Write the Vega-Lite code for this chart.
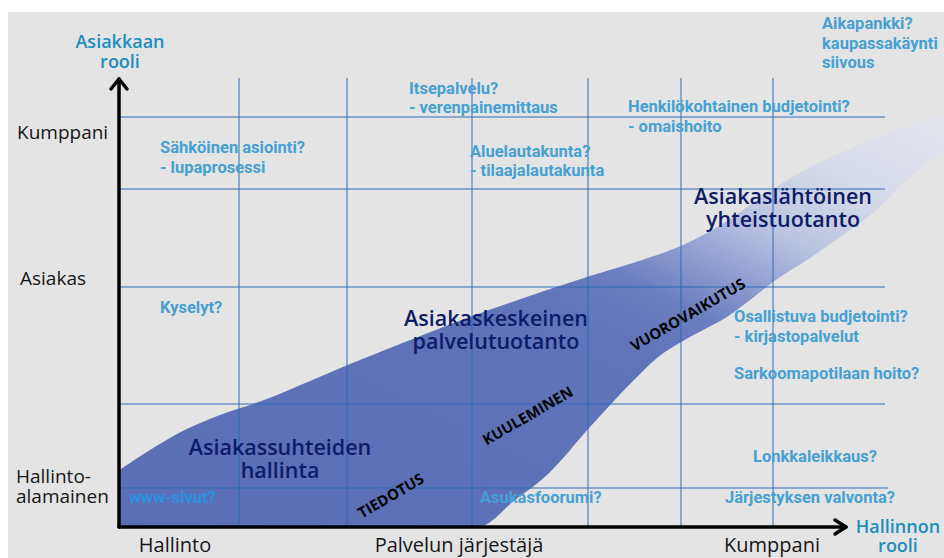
{
  "$schema": "https://vega.github.io/schema/vega-lite/v6.json",
  "width": 944,
  "height": 558,
  "autosize": {"type": "fit", "contains": "padding"},
  "padding": 0,
  "background": "#ffffff",
  "config": {"view": {"stroke": null}},
  "datasets": {
    "frame": [{"x": 8, "y": 12, "x2": 944, "y2": 558}],
    "band": [
      {"x": 118, "top": 471, "bottom": 527},
      {"x": 150, "top": 450, "bottom": 527},
      {"x": 177, "top": 434, "bottom": 527},
      {"x": 220, "top": 415, "bottom": 527},
      {"x": 267, "top": 399, "bottom": 527},
      {"x": 310, "top": 381, "bottom": 527},
      {"x": 350, "top": 364, "bottom": 527},
      {"x": 400, "top": 344, "bottom": 527},
      {"x": 433, "top": 331, "bottom": 527},
      {"x": 478, "top": 314, "bottom": 527},
      {"x": 515, "top": 301, "bottom": 500},
      {"x": 547, "top": 290, "bottom": 475},
      {"x": 590, "top": 276, "bottom": 427},
      {"x": 633, "top": 263, "bottom": 381},
      {"x": 657, "top": 255, "bottom": 358},
      {"x": 683, "top": 245, "bottom": 341},
      {"x": 705, "top": 234, "bottom": 329},
      {"x": 727, "top": 221, "bottom": 317},
      {"x": 750, "top": 205, "bottom": 300},
      {"x": 773, "top": 189, "bottom": 282},
      {"x": 810, "top": 167, "bottom": 258},
      {"x": 840, "top": 153, "bottom": 237},
      {"x": 873, "top": 139, "bottom": 213},
      {"x": 907, "top": 126, "bottom": 180},
      {"x": 944, "top": 114, "bottom": 150}
    ],
    "grid": [
      {"x": 118, "y": 117, "x2": 885, "y2": 117},
      {"x": 118, "y": 189, "x2": 885, "y2": 189},
      {"x": 118, "y": 287, "x2": 885, "y2": 287},
      {"x": 118, "y": 404, "x2": 885, "y2": 404},
      {"x": 118, "y": 488, "x2": 888, "y2": 488},
      {"x": 239, "y": 78, "x2": 239, "y2": 527},
      {"x": 347, "y": 78, "x2": 347, "y2": 527},
      {"x": 472, "y": 78, "x2": 472, "y2": 527},
      {"x": 588, "y": 78, "x2": 588, "y2": 527},
      {"x": 681, "y": 78, "x2": 681, "y2": 527},
      {"x": 773, "y": 78, "x2": 773, "y2": 527}
    ],
    "axes": [
      {"x": 119, "y": 79, "x2": 119, "y2": 527},
      {"x": 119, "y": 527, "x2": 845, "y2": 527},
      {"x": 111, "y": 89, "x2": 119, "y2": 79},
      {"x": 127, "y": 89, "x2": 119, "y2": 79},
      {"x": 835, "y": 520, "x2": 846, "y2": 527},
      {"x": 835, "y": 534, "x2": 846, "y2": 527}
    ],
    "labels": [
      {"role": "axisY", "text": "Kumppani", "x": 17, "y": 133},
      {"role": "axisY", "text": "Asiakas", "x": 20, "y": 279},
      {"role": "axisY", "text": "Hallinto-", "x": 16, "y": 477},
      {"role": "axisY", "text": "alamainen", "x": 16, "y": 497},
      {"role": "axisX", "text": "Hallinto", "x": 175, "y": 546},
      {"role": "axisX", "text": "Palvelun järjestäjä", "x": 459, "y": 546},
      {"role": "axisX", "text": "Kumppani", "x": 772, "y": 546},
      {"role": "head", "text": "Asiakkaan", "x": 120, "y": 43},
      {"role": "head", "text": "rooli", "x": 120, "y": 63},
      {"role": "head", "text": "Hallinnon", "x": 898, "y": 528},
      {"role": "head", "text": "rooli", "x": 898, "y": 547},
      {"role": "blue", "text": "Sähköinen asiointi?", "x": 160, "y": 148},
      {"role": "blue", "text": "- lupaprosessi", "x": 160, "y": 168},
      {"role": "blue", "text": "Itsepalvelu?", "x": 409, "y": 89},
      {"role": "blue", "text": "- verenpainemittaus", "x": 409, "y": 108},
      {"role": "blue", "text": "Aluelautakunta?", "x": 470, "y": 152},
      {"role": "blue", "text": "- tilaajalautakunta", "x": 470, "y": 171},
      {"role": "blue", "text": "Henkilökohtainen budjetointi?", "x": 628, "y": 107},
      {"role": "blue", "text": "- omaishoito", "x": 628, "y": 127},
      {"role": "blue", "text": "Aikapankki?", "x": 822, "y": 24},
      {"role": "blue", "text": "kaupassakäynti", "x": 822, "y": 44},
      {"role": "blue", "text": "siivous", "x": 822, "y": 63},
      {"role": "blue", "text": "Kyselyt?", "x": 160, "y": 308},
      {"role": "blue", "text": "Osallistuva budjetointi?", "x": 734, "y": 317},
      {"role": "blue", "text": "- kirjastopalvelut", "x": 734, "y": 337},
      {"role": "blue", "text": "Sarkoomapotilaan hoito?", "x": 734, "y": 374},
      {"role": "blue", "text": "Lonkkaleikkaus?", "x": 753, "y": 457},
      {"role": "blue", "text": "Järjestyksen valvonta?", "x": 725, "y": 498},
      {"role": "blue", "text": "Asukasfoorumi?", "x": 480, "y": 498},
      {"role": "blueDark", "text": "www-sivut?", "x": 129, "y": 498},
      {"role": "navy", "text": "Asiakassuhteiden", "x": 280, "y": 449},
      {"role": "navy", "text": "hallinta", "x": 280, "y": 472},
      {"role": "navy", "text": "Asiakaskeskeinen", "x": 496, "y": 320},
      {"role": "navy", "text": "palvelutuotanto", "x": 496, "y": 343},
      {"role": "navy", "text": "Asiakaslähtöinen", "x": 783, "y": 198},
      {"role": "navy", "text": "yhteistuotanto", "x": 783, "y": 221},
      {"role": "rot", "text": "TIEDOTUS", "x": 391, "y": 496},
      {"role": "rot", "text": "KUULEMINEN", "x": 528, "y": 416},
      {"role": "rot", "text": "VUOROVAIKUTUS", "x": 688, "y": 315}
    ]
  },
  "layer": [
    {
      "data": {"name": "frame"},
      "mark": {"type": "rect", "fill": "#e4e4e4"},
      "encoding": {
        "x": {"field": "x", "type": "quantitative", "scale": {"domain": [0, 944], "nice": false, "zero": false}, "axis": null},
        "x2": {"field": "x2"},
        "y": {"field": "y", "type": "quantitative", "scale": {"domain": [0, 558], "reverse": true, "nice": false, "zero": false}, "axis": null},
        "y2": {"field": "y2"}
      }
    },
    {
      "data": {"name": "band"},
      "mark": {
        "type": "area",
        "interpolate": "monotone",
        "color": {
          "gradient": "linear",
          "x1": 0, "y1": 1, "x2": 1, "y2": 0,
          "stops": [
            {"offset": 0, "color": "#5a6eb5"},
            {"offset": 0.52, "color": "#5f74b9"},
            {"offset": 0.61, "color": "#6a7ec0"},
            {"offset": 0.68, "color": "#909fd1"},
            {"offset": 0.76, "color": "#bcc5e1"},
            {"offset": 0.86, "color": "#d6dbea"},
            {"offset": 1, "color": "#e3e5ec"}
          ]
        }
      },
      "encoding": {
        "x": {"field": "x", "type": "quantitative", "scale": {"domain": [0, 944], "nice": false, "zero": false}, "axis": null},
        "y": {"field": "top", "type": "quantitative", "scale": {"domain": [0, 558], "reverse": true, "nice": false, "zero": false}, "axis": null},
        "y2": {"field": "bottom"}
      }
    },
    {
      "data": {"name": "grid"},
      "mark": {"type": "rule", "stroke": "#2a6ab5", "opacity": 0.65, "strokeWidth": 1.5},
      "encoding": {
        "x": {"field": "x", "type": "quantitative", "scale": {"domain": [0, 944], "nice": false, "zero": false}, "axis": null},
        "x2": {"field": "x2"},
        "y": {"field": "y", "type": "quantitative", "scale": {"domain": [0, 558], "reverse": true, "nice": false, "zero": false}, "axis": null},
        "y2": {"field": "y2"}
      }
    },
    {
      "data": {"name": "axes"},
      "mark": {"type": "rule", "stroke": "#000000", "strokeWidth": 3.5, "strokeCap": "round"},
      "encoding": {
        "x": {"field": "x", "type": "quantitative", "scale": {"domain": [0, 944], "nice": false, "zero": false}, "axis": null},
        "x2": {"field": "x2"},
        "y": {"field": "y", "type": "quantitative", "scale": {"domain": [0, 558], "reverse": true, "nice": false, "zero": false}, "axis": null},
        "y2": {"field": "y2"}
      }
    },
    {
      "data": {"name": "labels"},
      "transform": [{"filter": "datum.role === 'axisY'"}],
      "mark": {"type": "text", "align": "left", "baseline": "middle", "font": "Open Sans", "fontSize": 19, "color": "#161616"},
      "encoding": {
        "x": {"field": "x", "type": "quantitative", "scale": {"domain": [0, 944], "nice": false, "zero": false}, "axis": null},
        "y": {"field": "y", "type": "quantitative", "scale": {"domain": [0, 558], "reverse": true, "nice": false, "zero": false}, "axis": null},
        "text": {"field": "text"}
      }
    },
    {
      "data": {"name": "labels"},
      "transform": [{"filter": "datum.role === 'axisX'"}],
      "mark": {"type": "text", "align": "center", "baseline": "middle", "font": "Open Sans", "fontSize": 20, "color": "#161616"},
      "encoding": {
        "x": {"field": "x", "type": "quantitative", "scale": {"domain": [0, 944], "nice": false, "zero": false}, "axis": null},
        "y": {"field": "y", "type": "quantitative", "scale": {"domain": [0, 558], "reverse": true, "nice": false, "zero": false}, "axis": null},
        "text": {"field": "text"}
      }
    },
    {
      "data": {"name": "labels"},
      "transform": [{"filter": "datum.role === 'head'"}],
      "mark": {"type": "text", "align": "center", "baseline": "middle", "font": "Open Sans", "fontSize": 18, "fontWeight": 600, "color": "#1b8dc1"},
      "encoding": {
        "x": {"field": "x", "type": "quantitative", "scale": {"domain": [0, 944], "nice": false, "zero": false}, "axis": null},
        "y": {"field": "y", "type": "quantitative", "scale": {"domain": [0, 558], "reverse": true, "nice": false, "zero": false}, "axis": null},
        "text": {"field": "text"}
      }
    },
    {
      "data": {"name": "labels"},
      "transform": [{"filter": "datum.role === 'blue'"}],
      "mark": {"type": "text", "align": "left", "baseline": "middle", "font": "Roboto", "fontSize": 16.5, "fontWeight": 700, "color": "#45a0d3"},
      "encoding": {
        "x": {"field": "x", "type": "quantitative", "scale": {"domain": [0, 944], "nice": false, "zero": false}, "axis": null},
        "y": {"field": "y", "type": "quantitative", "scale": {"domain": [0, 558], "reverse": true, "nice": false, "zero": false}, "axis": null},
        "text": {"field": "text"}
      }
    },
    {
      "data": {"name": "labels"},
      "transform": [{"filter": "datum.role === 'blueDark'"}],
      "mark": {"type": "text", "align": "left", "baseline": "middle", "font": "Roboto", "fontSize": 16.5, "fontWeight": 700, "color": "#2b8fe2"},
      "encoding": {
        "x": {"field": "x", "type": "quantitative", "scale": {"domain": [0, 944], "nice": false, "zero": false}, "axis": null},
        "y": {"field": "y", "type": "quantitative", "scale": {"domain": [0, 558], "reverse": true, "nice": false, "zero": false}, "axis": null},
        "text": {"field": "text"}
      }
    },
    {
      "data": {"name": "labels"},
      "transform": [{"filter": "datum.role === 'navy'"}],
      "mark": {"type": "text", "align": "center", "baseline": "middle", "font": "Open Sans", "fontSize": 21.5, "fontWeight": 600, "color": "#0c1c68"},
      "encoding": {
        "x": {"field": "x", "type": "quantitative", "scale": {"domain": [0, 944], "nice": false, "zero": false}, "axis": null},
        "y": {"field": "y", "type": "quantitative", "scale": {"domain": [0, 558], "reverse": true, "nice": false, "zero": false}, "axis": null},
        "text": {"field": "text"}
      }
    },
    {
      "data": {"name": "labels"},
      "transform": [{"filter": "datum.role === 'rot'"}],
      "mark": {"type": "text", "align": "center", "baseline": "middle", "font": "Open Sans", "fontSize": 15, "fontWeight": 700, "color": "#000000", "angle": -30},
      "encoding": {
        "x": {"field": "x", "type": "quantitative", "scale": {"domain": [0, 944], "nice": false, "zero": false}, "axis": null},
        "y": {"field": "y", "type": "quantitative", "scale": {"domain": [0, 558], "reverse": true, "nice": false, "zero": false}, "axis": null},
        "text": {"field": "text"}
      }
    }
  ]
}
